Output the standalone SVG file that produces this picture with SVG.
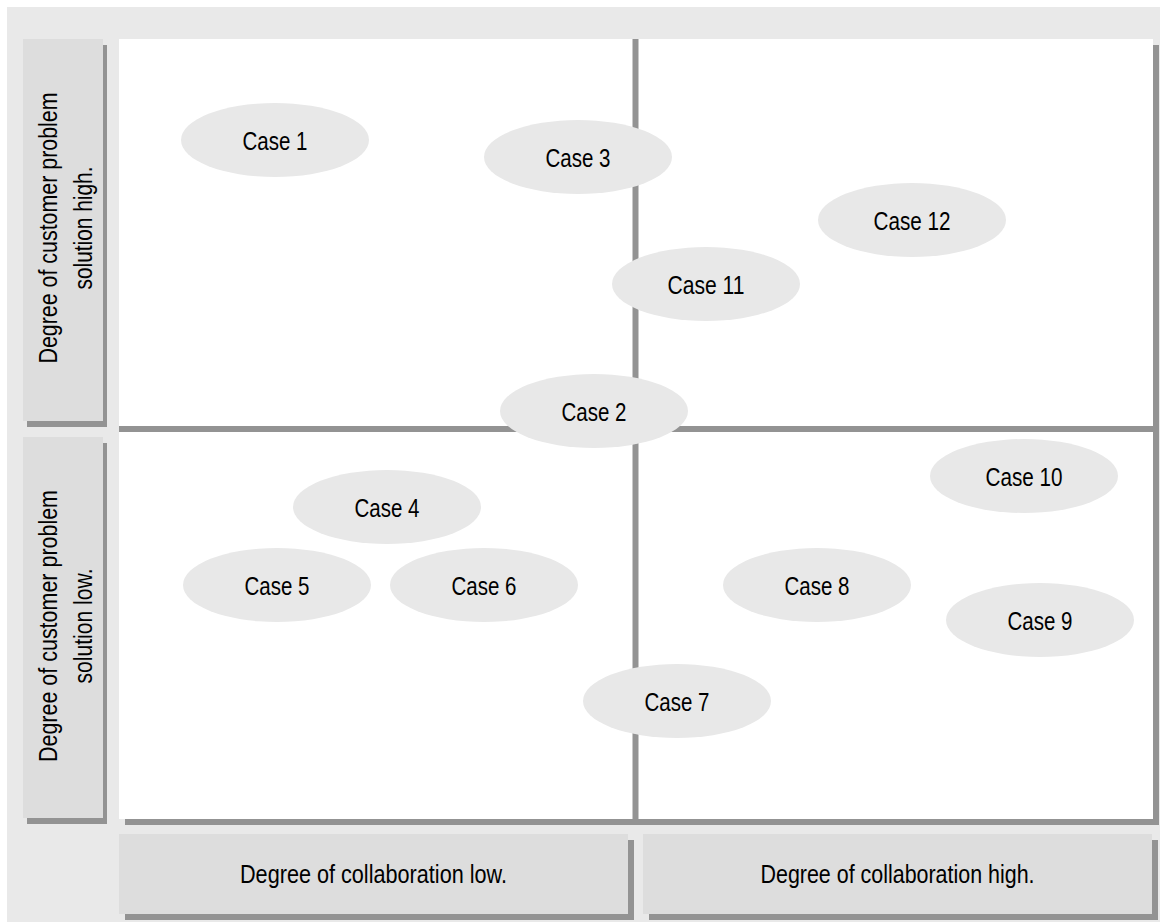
<svg xmlns="http://www.w3.org/2000/svg" width="1168" height="922" viewBox="0 0 1168 922">
  <style>
    .bg { fill: #e9e9e9; }
    .panel { fill: #dddddd; }
    .shadow { fill: #939393; }
    .plot { fill: #ffffff; }
    .axis { stroke: #939393; stroke-width: 6; fill: none; }
    .case { fill: #e8e8e8; }
    text { font-family: "Liberation Sans", Arial, sans-serif; font-size: 25px; fill: #000000; text-anchor: middle; }
  </style>

  <rect width="1168" height="922" fill="#ffffff"/>
  <rect class="bg" x="7" y="7" width="1153" height="915"/>

  <!-- plotting area with drop shadow -->
  <g id="plot">
    <rect class="shadow" x="125" y="45" width="1034" height="780"/>
    <rect class="plot" x="119" y="39" width="1034" height="780"/>
  </g>

  <!-- quadrant dividers -->
  <g id="connectors">
    <line class="axis" x1="119" y1="429" x2="1153" y2="429"/>
    <line class="axis" x1="635.5" y1="39" x2="635.5" y2="819"/>
  </g>

  <!-- vertical axis labels -->
  <g id="label-problem-high">
    <rect class="shadow" x="27" y="45" width="80" height="382"/>
    <rect class="panel" x="23" y="39" width="80" height="382"/>
    <g transform="translate(0,228) rotate(-90)">
      <text x="0" y="56.5" textLength="271" lengthAdjust="spacingAndGlyphs">Degree of customer problem</text>
      <text x="0" y="91.5" textLength="123" lengthAdjust="spacingAndGlyphs">solution high.</text>
    </g>
  </g>
  <g id="label-problem-low">
    <rect class="shadow" x="27" y="443" width="80" height="381"/>
    <rect class="panel" x="23" y="437" width="80" height="381"/>
    <g transform="translate(0,626) rotate(-90)">
      <text x="0" y="56.5" textLength="272" lengthAdjust="spacingAndGlyphs">Degree of customer problem</text>
      <text x="0" y="91.5" textLength="115" lengthAdjust="spacingAndGlyphs">solution low.</text>
    </g>
  </g>

  <!-- horizontal axis labels -->
  <g id="label-collab-low">
    <rect class="shadow" x="125" y="840" width="509" height="80"/>
    <rect class="panel" x="119" y="834" width="509" height="80"/>
    <text x="373.5" y="883" textLength="267" lengthAdjust="spacingAndGlyphs">Degree of collaboration low.</text>
  </g>
  <g id="label-collab-high">
    <rect class="shadow" x="649" y="840" width="509" height="80"/>
    <rect class="panel" x="643" y="834" width="509" height="80"/>
    <text x="897.5" y="883" textLength="274" lengthAdjust="spacingAndGlyphs">Degree of collaboration high.</text>
  </g>

  <!-- cases -->
  <g id="case-1"><ellipse class="case" cx="275" cy="140" rx="94" ry="37"/><text x="275" y="149.5" textLength="65" lengthAdjust="spacingAndGlyphs">Case 1</text></g>
  <g id="case-3"><ellipse class="case" cx="578" cy="157" rx="94" ry="37"/><text x="578" y="166.5" textLength="65" lengthAdjust="spacingAndGlyphs">Case 3</text></g>
  <g id="case-12"><ellipse class="case" cx="912" cy="220" rx="94" ry="37"/><text x="912" y="229.5" textLength="77" lengthAdjust="spacingAndGlyphs">Case 12</text></g>
  <g id="case-11"><ellipse class="case" cx="706" cy="284" rx="94" ry="37"/><text x="706" y="293.5" textLength="77" lengthAdjust="spacingAndGlyphs">Case 11</text></g>
  <g id="case-2"><ellipse class="case" cx="594" cy="411" rx="94" ry="37"/><text x="594" y="420.5" textLength="65" lengthAdjust="spacingAndGlyphs">Case 2</text></g>
  <g id="case-10"><ellipse class="case" cx="1024" cy="476" rx="94" ry="37"/><text x="1024" y="485.5" textLength="77" lengthAdjust="spacingAndGlyphs">Case 10</text></g>
  <g id="case-4"><ellipse class="case" cx="387" cy="507" rx="94" ry="37"/><text x="387" y="516.5" textLength="65" lengthAdjust="spacingAndGlyphs">Case 4</text></g>
  <g id="case-5"><ellipse class="case" cx="277" cy="585" rx="94" ry="37"/><text x="277" y="594.5" textLength="65" lengthAdjust="spacingAndGlyphs">Case 5</text></g>
  <g id="case-6"><ellipse class="case" cx="484" cy="585" rx="94" ry="37"/><text x="484" y="594.5" textLength="65" lengthAdjust="spacingAndGlyphs">Case 6</text></g>
  <g id="case-8"><ellipse class="case" cx="817" cy="585" rx="94" ry="37"/><text x="817" y="594.5" textLength="65" lengthAdjust="spacingAndGlyphs">Case 8</text></g>
  <g id="case-9"><ellipse class="case" cx="1040" cy="620" rx="94" ry="37"/><text x="1040" y="629.5" textLength="65" lengthAdjust="spacingAndGlyphs">Case 9</text></g>
  <g id="case-7"><ellipse class="case" cx="677" cy="701" rx="94" ry="37"/><text x="677" y="710.5" textLength="65" lengthAdjust="spacingAndGlyphs">Case 7</text></g>
</svg>
